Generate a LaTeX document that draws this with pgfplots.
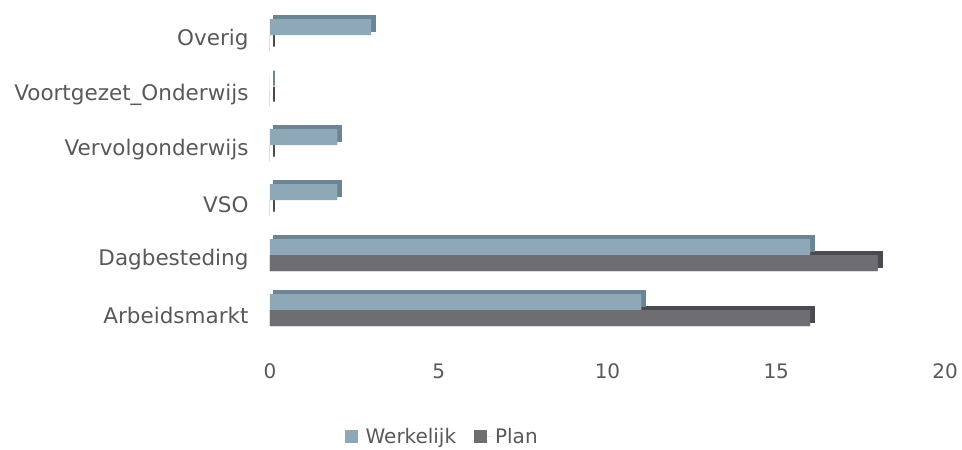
\documentclass[border=0pt]{standalone}
\usepackage{fontspec}
\setmainfont{DejaVu Sans}
\usepackage{pgfplots}
\pgfplotsset{compat=1.18}
\definecolor{werk}{HTML}{8FA8B8}
\definecolor{werkdark}{HTML}{6D8493}
\definecolor{plan}{HTML}{6E6D72}
\definecolor{plandark}{HTML}{4B4A50}
\definecolor{txt}{HTML}{595959}
\begin{document}
\begin{tikzpicture}[font=\fontsize{20bp}{22bp}\selectfont, text=txt]
  \useasboundingbox (-270bp,-107.5bp) rectangle (692bp,342.5bp);
  \begin{axis}[
      scale only axis,
      width=675bp, height=330bp,
      xbar, bar width=16bp,
      xmin=0, xmax=20,
      ymin=-0.5, ymax=5.5,
      xtick={0,5,...,20},
      ytick={0,...,5},
      yticklabels={Arbeidsmarkt,Dagbesteding,VSO,Vervolgonderwijs,Voortgezet\_Onderwijs,Overig},
      axis line style={draw=none},
      major tick length=0pt,
      clip=false,
      /pgf/number format/assume math mode=true,
      xticklabel style={yshift=-18bp},
      yticklabel style={xshift=-18bp, font=\fontsize{21.5bp}{23bp}\selectfont},
      legend style={draw=none, at={(0.255,-0.285)}, anchor=center,
        legend columns=2, /tikz/every even column/.append style={column sep=16bp}},
      legend image code/.code={\fill[#1] (0bp,-6.5bp) rectangle (13bp,6.5bp);
        \path (0bp,0bp) -- (19bp,0bp);},
    ]
    % back faces (top and side of the 3D bars)
    \addplot[forget plot, fill=plandark, draw=plandark, line width=2bp,
      bar shift=1bp, bar width=15bp, xshift=4bp] coordinates {
      (16,0) (18,1) (0,2) (0,3) (0,4) (0,5)};
    \addplot[forget plot, fill=plan, draw=none, bar shift=-3bp] coordinates {
      (16,0) (18,1) (0,2) (0,3) (0,4) (0,5)};
    \addplot[forget plot, fill=werkdark, draw=werkdark, line width=2bp,
      bar shift=17bp, bar width=15bp, xshift=4bp] coordinates {
      (11,0) (16,1) (2,2) (2,3) (0,4) (3,5)};
    % front faces
    \addplot[fill=werk, draw=none, bar shift=13bp] coordinates {
      (11,0) (16,1) (2,2) (2,3) (0,4) (3,5)};
    \addlegendentry{Werkelijk}
    \addplot[fill=plan, draw=none, bar shift=-3bp] coordinates {
      (16,0) (18,1) (0,2) (0,3) (0,4) (0,5)};
    \addlegendentry{Plan}
  \end{axis}
\end{tikzpicture}
\end{document}
